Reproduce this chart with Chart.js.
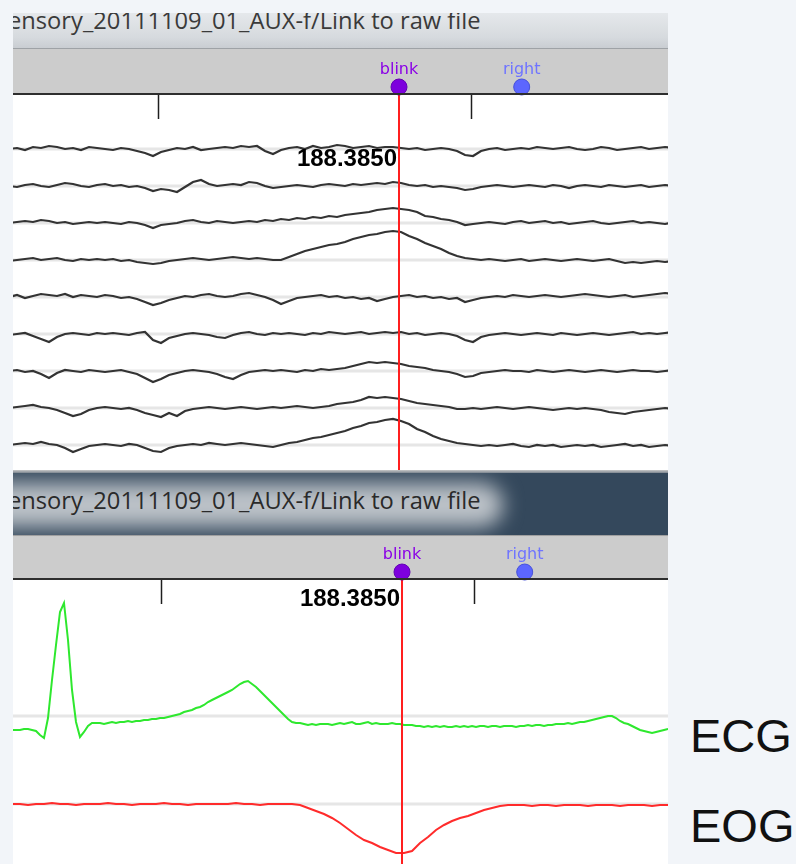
<!DOCTYPE html>
<html>
<head>
<meta charset="utf-8">
<script src="https://cdn.jsdelivr.net/npm/chart.js@4.4.0/dist/chart.umd.min.js"></script>
<style>
  html, body { margin: 0; padding: 0; width: 796px; height: 864px; overflow: hidden; background: #f2f5f9; }
  #shot { position: absolute; left: 13px; top: 0; width: 655px; height: 864px; overflow: hidden; }
  #shot > div, #shot > canvas { position: absolute; left: 0; width: 655px; }
  .title1 { top: 13px; height: 35px; overflow: hidden; background: linear-gradient(#e5e8eb, #d6dade 70%, #c9cdd2); }
  .title1 span { position: absolute; left: -5px; top: -9px; font: 23.7px "Open Sans", sans-serif; color: #3a3a3a; white-space: nowrap; }
  .sep1 { top: 48px; height: 1px; background: #9ea2a6; }
  .mark1 { top: 49px; height: 44px; background: #cccccc; }
  .plot1 { top: 95px; height: 375px; background: #ffffff; }
  .edge1 { top: 470px; height: 3px; background: linear-gradient(#c8c8c8, #7d8690); }
  .title2 { top: 473px; height: 62px; overflow: hidden; background: #34485c; }
  .glow { position: absolute; left: -40px; top: 10px; width: 530px; height: 44px; border-radius: 22px; background: #bcc2c8; filter: blur(10px); }
  .title2 span { position: absolute; left: -5px; top: 11px; font: 23.7px "Open Sans", sans-serif; color: #2a2a2a; white-space: nowrap; }
  .sep2 { top: 535px; height: 2px; background: linear-gradient(#8a8a8a, #e0e0e0); }
  .mark2 { top: 537px; height: 41px; background: #cccccc; }
  .plot2 { top: 580px; height: 284px; background: #ffffff; }
  .side { position: absolute; left: 690px; font: 47px/47px "Liberation Sans", Arial, sans-serif; color: #111; }
</style>
</head>
<body>
<div id="shot">
  <div class="title1"><span>ensory_20111109_01_AUX-f/Link to raw file</span></div>
  <div class="sep1"></div>
  <div class="mark1"></div>
  <div class="plot1"></div>
  <div class="edge1"></div>
  <div class="title2"><div class="glow"></div><span>ensory_20111109_01_AUX-f/Link to raw file</span></div>
  <div class="sep2"></div>
  <div class="mark2"></div>
  <div class="plot2"></div>
  <canvas id="eegChart" width="655" height="421" style="top:49px;height:421px"></canvas>
  <canvas id="auxChart" width="655" height="327" style="top:537px;height:327px"></canvas>
</div>
<div class="side" style="top:712px">ECG</div>
<div class="side" style="top:802px">EOG</div>

<script>
// time axis (seconds)
const timeTicks = [188.0, 188.5];
const cursorTime = 188.385;
const markerLabels = ["blink", "right"];
const markerTimes = [188.385, 188.581];
const markerColors = ["#7d00dd", "#5c66ff"];
const markerTextColors = ["#8a00e6", "#6f74ff"];

// sampling of the traces
const traceStart = 187.762;
const eegStep = 0.01278;
const ecgStep = 0.00639;
const eogStep = 0.01278;

// EEG channels, deflection in uV (one channel row = 37 uV)
const eeg1 = [0,1,-1,2,1,3, 2,0,1,-1,2,1, 0,-1,1,0,-2,-4, -7,-3,-1,1,0,2, -1,0,1,2,1,3, 2,3,-2,-5,-1,1,
  2,0,3,1,2,4, 3,1,2,3,1,2, 2,1,0,1,-1,0, 1,0,-2,-6,-7,-2, 0,1,-1,0,1,0, 2,1,0,1,2,0, -1,0,2,1,-1,0, 1,2,0,1,2,1];
const eeg2 = [0,-1,1,2,0,-1, 1,3,2,0,-1,1, 2,0,1,-1,0,-2, -5,-3,-4,-6,-1,4, 6,2,0,1,2,1, 4,3,0,-2,-1,0,
  1,0,-1,1,2,1, 0,2,1,2,3,2, 4,3,1,0,1,-1, 0,-1,-2,-4,-3,-1, 0,1,0,-1,0,1, 0,-1,1,0,-2,0, 1,0,-1,1,0,-1, 0,1,-1,0,1,0];
const eeg3 = [0,1,2,1,3,2, 0,1,-1,0,1,0, 1,0,-1,1,0,-2, -5,-2,-1,0,2,3, 1,0,2,1,0,1, 2,1,3,2,4,3,
  5,4,6,5,7,6, 8,9,10,11,13,14, 15,14,13,11,7,6, 4,3,1,-2,-1,0, 1,0,-1,1,2,0, 1,2,0,1,-1,0, 1,2,0,-1,0,1, 2,0,1,0,-1,1];
const eeg4 = [-1,0,1,2,0,1, 2,0,-1,1,0,1, 0,1,-1,0,-2,-3, -4,-3,-1,0,1,2, 1,0,1,2,3,2, 1,2,1,0,0,3,
  6,9,11,13,15,16, 18,21,23,25,26,28, 29,28,24,21,17,14, 11,7,4,2,1,0, 1,0,-1,0,1,-1, 0,1,0,-1,0,1, 0,-1,0,1,-1,-3, -2,-3,-2,-1,-2,-1];
const eeg5 = [0,2,-1,1,3,2, 1,3,0,2,1,0, 2,1,-1,0,-2,-5, -8,-6,-3,-1,1,0, 2,3,1,0,1,3, 4,2,0,-3,-7,-4,
  -1,0,1,2,0,1, -1,0,-2,-1,-4,-2, 0,1,2,0,1,-1, 0,-2,-1,-5,-3,-1, 0,1,0,2,1,0, 1,2,1,0,1,2, 3,2,1,0,1,2, 0,1,2,3,4,3];
const eeg6 = [-1,0,1,-2,-5,-8, -3,0,1,0,-1,1, 0,1,0,-1,1,2, -6,-9,-4,-2,0,1, 0,-1,-3,-4,-1,1, 2,0,-1,1,0,1,
  0,-1,1,0,2,1, 0,1,2,0,1,2, 1,2,0,1,-1,0, 1,0,-2,-6,-8,-3, -1,0,1,0,-1,0, 1,0,-1,1,0,-1, 0,1,0,-1,0,1, 2,0,1,0,1,2];
const eeg7 = [0,1,-1,0,-3,-7, -2,1,0,-1,1,0, -1,0,1,-1,-3,-7, -11,-8,-4,-2,0,1, 0,-1,-3,-6,-8,-4, -1,0,1,0,1,0,
  -1,1,0,2,1,2, 3,5,7,9,8,9, 8,7,5,4,3,1, 0,-1,-3,-6,-5,-2, -1,0,1,0,0,-1, 1,0,-1,0,1,0, -1,0,1,0,-1,0, 1,0,0,-1,0,1];
const eeg8 = [0,1,2,3,1,0, -2,-5,-8,-6,-2,0, 1,0,-1,0,-2,-5, -7,-9,-5,-8,-3,-1, 0,1,0,-1,0,1, 0,-1,0,1,0,1,
  2,1,0,1,2,4, 5,6,8,11,10,11, 10,9,7,5,4,3, 2,1,-1,-1,0,-1, 0,1,0,-1,0,1, 0,-1,-2,-1,0,-1, 0,-1,-2,-4,-5,-6, -4,-3,-2,-1,0,-1];
const eeg9 = [0,1,2,1,3,1, 0,-3,-7,-4,-1,0, 1,0,-1,1,0,-3, -6,-7,-3,-1,0,1, 0,2,1,0,1,2, 1,0,-1,-2,0,2,
  3,5,7,8,10,12, 14,17,19,22,23,25, 26,24,21,16,13,9, 6,4,2,1,0,-1, 0,-1,0,1,-1,-2, 0,-1,0,-2,-1,0, -1,0,-2,-1,0,1, -1,0,-2,-1,0,-1];

// AUX channels, deflection in uV (one channel row = 88 uV)
const ecg = [-14,-14,-14,-13,-13,-14,-15,-19,-22,-2,36,71,104,113,76,26,-6,-21,-16,-10,-7,-7,-7,-8,-7,-6,-7,-6,-6,-5,
  -6,-5,-5,-4,-4,-3,-3,-2,-2,-1,0,1,2,4,5,6,8,9,11,14,16,18,20,22,24,26,29,32,34,35,
  32,29,25,21,17,13,9,5,1,-3,-6,-7,-7,-8,-9,-8,-9,-8,-8,-8,-9,-8,-7,-8,-7,-6,-8,-8,-7,-6,
  -8,-7,-8,-8,-8,-7,-8,-8,-9,-9,-9,-10,-10,-11,-10,-11,-10,-11,-10,-11,-11,-10,-11,-10,-11,-10,-11,-10,-10,-11,
  -10,-10,-11,-10,-10,-10,-11,-10,-10,-9,-10,-9,-9,-10,-9,-9,-8,-8,-8,-7,-8,-7,-6,-6,-5,-4,-3,-2,-1,0,
  0,-2,-5,-7,-8,-10,-12,-14,-15,-16,-17,-16,-15,-14,-13,-13,-13,-13];
const eog = [0,0,-1,0,0,1,0,0,-1,0,0,0, 1,0,0,-1,0,0,0,1,0,0,-1,0, 0,0,0,0,1,0,0,-1,0,0,0,0,
  -1,-4,-7,-10,-14,-19, -25,-31,-36,-39,-43,-46, -49,-49,-47,-39,-33,-26, -21,-17,-14,-12,-9,-6, -4,-2,-1,-1,-1,-2,
  -1,-1,-2,-1,-1,-1, -2,-1,-1,-1,-2,-1, -1,-1,-2,-1,-1,-1];

const eegChannels = [eeg1, eeg2, eeg3, eeg4, eeg5, eeg6, eeg7, eeg8, eeg9];

function series(values, step, base, uvPerRow) {
  return values.map((v, i) => ({ x: traceStart + i * step, y: base + v / uvPerRow }));
}

function baselineSet(base, xMin, xMax) {
  return { data: [{ x: xMin, y: base }, { x: xMax, y: base }], borderColor: "#e6e6e6", borderWidth: 3, pointRadius: 0 };
}

function markerSets(row, yMin) {
  return [
    {
      type: "scatter",
      data: markerTimes.map((t) => ({ x: t, y: row })),
      pointRadius: 8,
      pointBackgroundColor: markerColors,
      pointBorderColor: ["#6200b4", "#4650d8"],
      pointBorderWidth: 1,
    },
    {
      data: [{ x: cursorTime, y: row }, { x: cursorTime, y: yMin }],
      borderColor: "#ff1f1f",
      borderWidth: 2,
      pointRadius: 0,
    },
  ];
}

// ticks, separator, marker names and cursor time label
const panelDecor = {
  id: "panelDecor",
  afterDatasetsDraw(chart, args, opts) {
    const ctx = chart.ctx;
    const xs = chart.scales.x;
    const ys = chart.scales.y;
    ctx.save();
    ctx.fillStyle = "#2e2e2e";
    ctx.fillRect(0, opts.sepY, chart.width, 2);
    ctx.strokeStyle = "#1e1e1e";
    ctx.lineWidth = 1.5;
    timeTicks.forEach((t) => {
      const px = Math.round(xs.getPixelForValue(t)) + 0.5;
      ctx.beginPath();
      ctx.moveTo(px, opts.sepY + 2);
      ctx.lineTo(px, opts.sepY + 26);
      ctx.stroke();
    });
    const rowPx = ys.getPixelForValue(opts.markerRow);
    ctx.font = '16px "DejaVu Sans"';
    ctx.textAlign = "center";
    ctx.textBaseline = "middle";
    markerLabels.forEach((name, i) => {
      ctx.fillStyle = markerTextColors[i];
      ctx.fillText(name, xs.getPixelForValue(markerTimes[i]), rowPx - 17);
    });
    ctx.font = 'bold 24px "Liberation Sans"';
    ctx.fillStyle = "#000";
    ctx.textAlign = "right";
    ctx.fillText(cursorTime.toFixed(4), xs.getPixelForValue(cursorTime) - 2, opts.labelY);
    ctx.restore();
  },
};

function baseOptions(xMin, xMax, yMin, yMax, decor) {
  return {
    responsive: false,
    animation: false,
    devicePixelRatio: 1,
    layout: { padding: 0, autoPadding: false },
    elements: { line: { tension: 0 } },
    scales: {
      x: { type: "linear", min: xMin, max: xMax, display: false },
      y: { min: yMin, max: yMax, display: false },
    },
    plugins: { legend: { display: false }, tooltip: { enabled: false }, panelDecor: decor },
  };
}

// top panel: nine EEG channels
const eegX = [187.7684, 188.8147];
const eegY = [-0.676, 10.703];
const eegMarkerRow = 9.676;
const eegDatasets = markerSets(eegMarkerRow, eegY[0]);
eegChannels.forEach((ch, k) => {
  eegDatasets.push({ data: series(ch, eegStep, 8 - k, 37), borderColor: "#333333", borderWidth: 2.2, pointRadius: 0 });
});
eegChannels.forEach((ch, k) => eegDatasets.push(baselineSet(8 - k, eegX[0], eegX[1])));

new Chart(document.getElementById("eegChart"), {
  type: "line",
  data: { datasets: eegDatasets },
  options: baseOptions(eegX[0], eegX[1], eegY[0], eegY[1], { sepY: 44, markerRow: eegMarkerRow, labelY: 110 }),
  plugins: [panelDecor],
});

// bottom panel: ECG and EOG
const auxX = [187.7636, 188.8099];
const auxY = [-0.682, 3.034];
const auxMarkerRow = 2.636;
const auxDatasets = markerSets(auxMarkerRow, auxY[0]);
auxDatasets.push({ data: series(ecg, ecgStep, 1, 88), borderColor: "#2ee82e", borderWidth: 2, pointRadius: 0 });
auxDatasets.push({ data: series(eog, eogStep, 0, 88), borderColor: "#ff2b2b", borderWidth: 2, pointRadius: 0 });
auxDatasets.push(baselineSet(1, auxX[0], auxX[1]));
auxDatasets.push(baselineSet(0, auxX[0], auxX[1]));

new Chart(document.getElementById("auxChart"), {
  type: "line",
  data: { datasets: auxDatasets },
  options: baseOptions(auxX[0], auxX[1], auxY[0], auxY[1], { sepY: 41, markerRow: auxMarkerRow, labelY: 62 }),
  plugins: [panelDecor],
});
</script>
</body>
</html>
